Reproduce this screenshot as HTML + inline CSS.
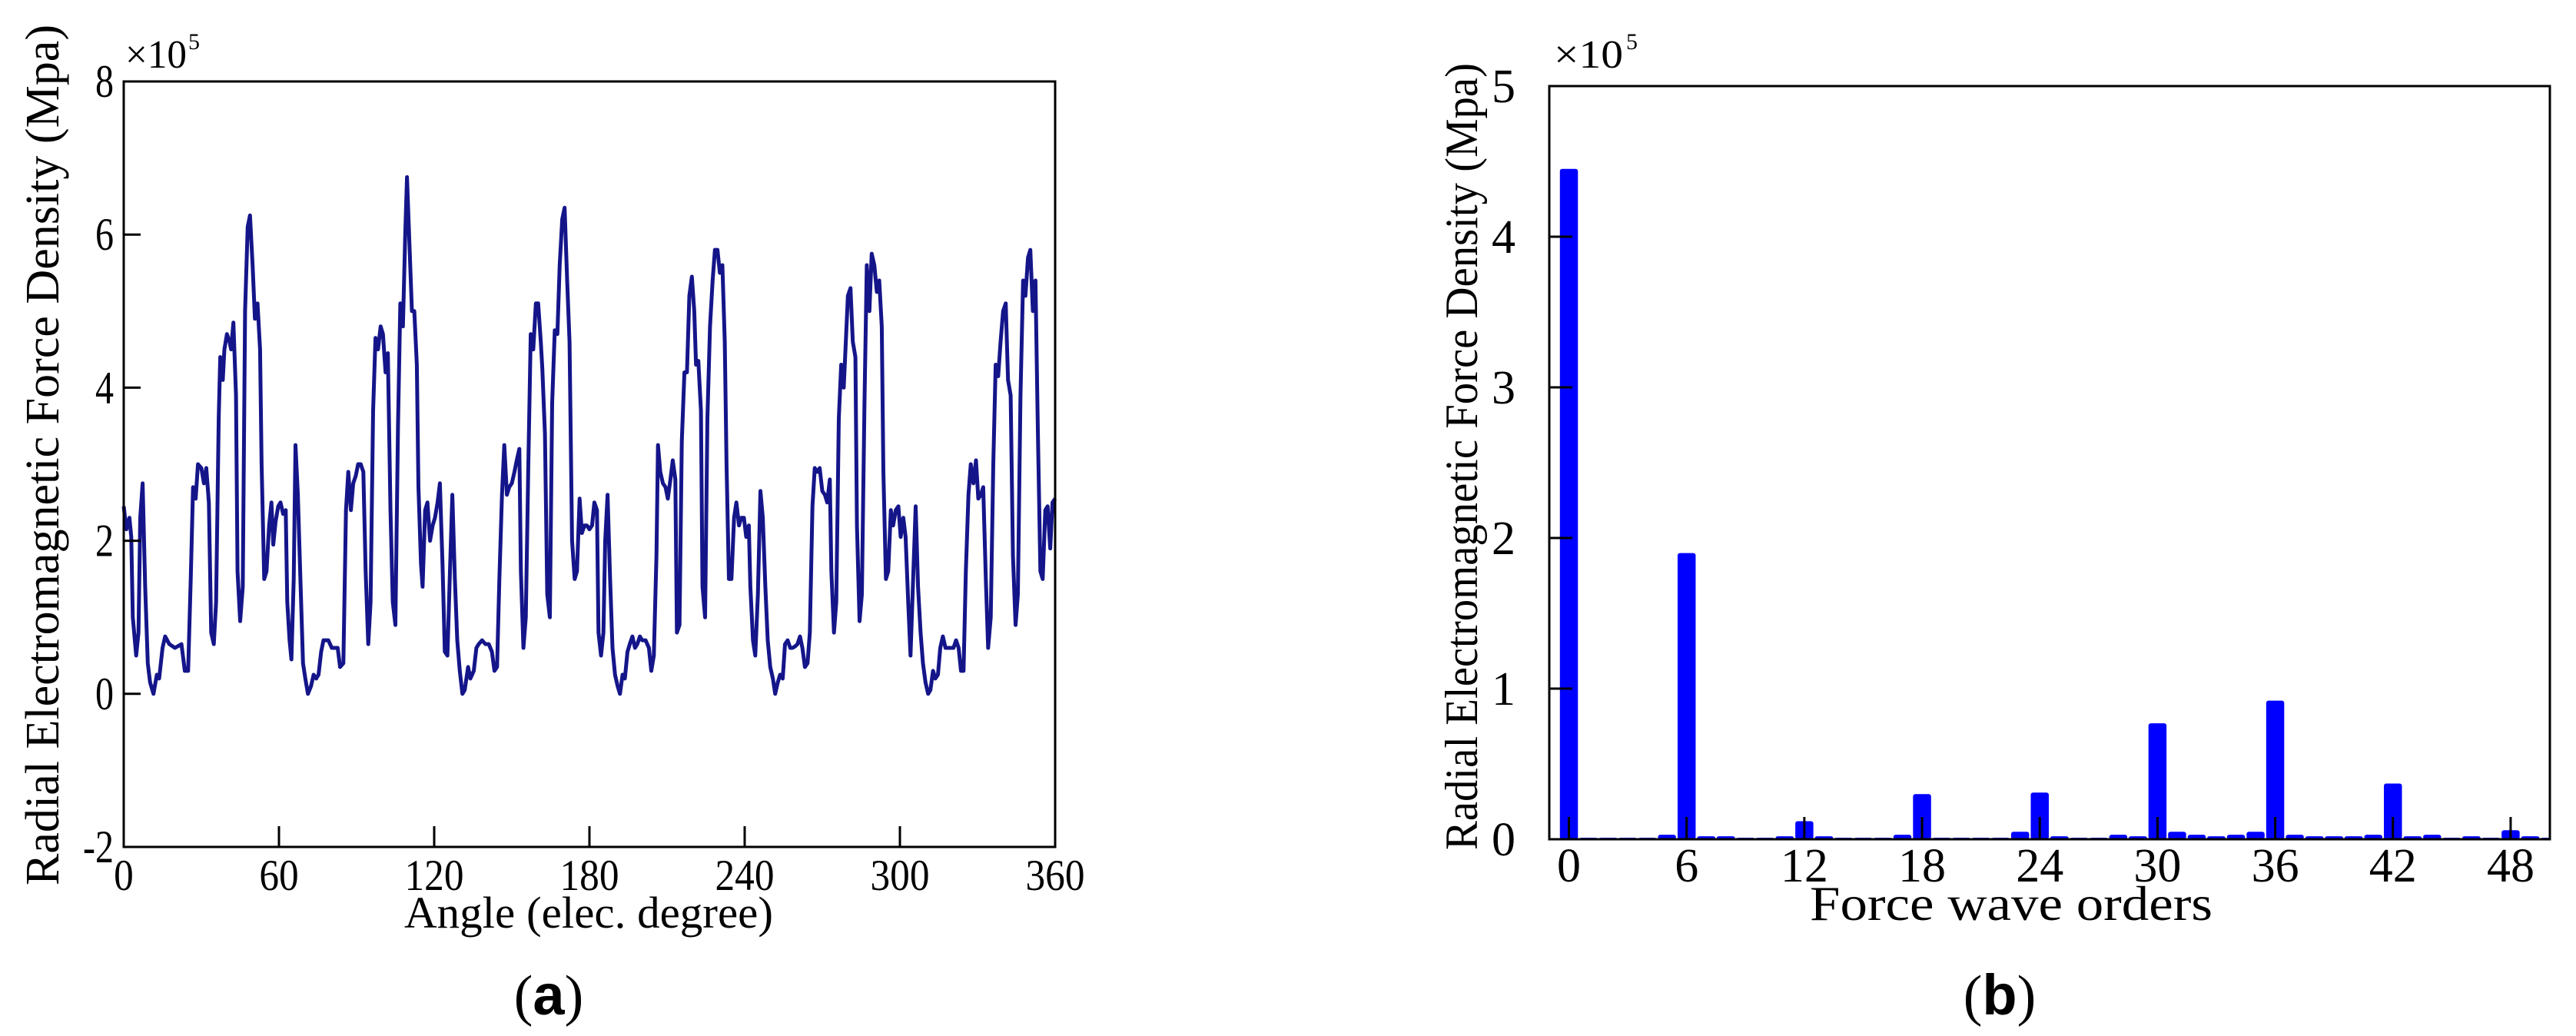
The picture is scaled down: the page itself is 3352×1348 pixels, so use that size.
<!DOCTYPE html>
<html><head><meta charset="utf-8"><style>
html,body{margin:0;padding:0;background:#fff;}
svg{display:block;font-family:"Liberation Serif",serif;}
</style></head><body>
<svg id="fig" width="3352" height="1348" viewBox="0 0 3352 1348" xmlns="http://www.w3.org/2000/svg">
<g id="pa"></g>
<g id="pb"></g>
</svg>
<script>
// Panel (a): angle (deg) vs force density (x1e5)
const angleA=[0,1.0,2.2,2.9,3.5,4.8,5.7,6.4,7.3,8.3,9.3,10.2,11.5,12.8,13.7,15.0,16.0,17.6,19.8,22.3,23.6,24.9,25.9,26.8,27.8,28.7,30.0,31.0,31.9,32.9,33.8,34.8,35.7,36.7,37.3,38.3,38.9,39.9,40.9,41.5,42.4,43.4,44.0,45.0,46.0,46.9,47.9,48.8,49.8,50.7,51.7,52.7,53.3,54.3,55.2,56.2,57.1,57.8,58.7,59.7,60.6,61.6,62.6,63.2,64.1,64.8,65.7,66.4,67.3,68.3,69.3,70.2,71.2,72.4,73.4,74.4,75.3,76.3,77.2,78.2,79.1,80.4,81.7,82.7,83.6,84.9,85.9,86.8,87.8,88.7,89.7,90.6,91.6,92.6,93.5,94.5,95.4,96.4,97.3,98.3,99.3,100.2,101.2,102.1,103.1,104.0,105.0,106.0,106.9,107.9,108.8,109.5,110.4,111.4,112.3,113.3,113.9,114.9,115.5,116.5,117.4,118.4,119.4,120.3,121.3,122.2,123.2,124.1,125.1,126.1,127.0,128.0,128.9,129.9,130.9,131.8,133.1,134.0,135.3,136.3,137.2,138.5,139.8,141.1,142.3,143.3,144.3,145.2,146.2,147.1,148.1,149.0,150.0,151.0,151.9,152.9,153.5,154.5,155.4,156.4,157.3,158.3,159.3,160.2,161.2,161.8,162.8,163.7,164.7,165.6,166.6,167.6,168.5,169.5,170.4,171.4,172.3,173.3,174.3,175.2,176.2,177.1,178.1,179.0,180.0,181.0,181.9,182.9,183.5,184.5,185.4,186.1,187.0,188.0,188.9,189.9,190.9,191.8,192.8,193.7,194.7,195.6,196.6,197.6,198.5,199.5,200.4,201.7,203.0,203.9,204.9,205.9,206.5,207.4,208.4,209.4,210.3,211.3,212.2,213.2,213.8,214.8,215.7,216.7,217.7,218.6,219.6,220.5,221.2,222.1,223.1,223.7,224.7,225.6,226.6,227.6,228.5,229.5,230.4,231.4,232.3,233.0,233.9,234.9,235.9,236.8,237.8,238.7,239.7,240.6,241.6,242.2,243.2,244.1,245.1,246.1,247.0,248.0,248.9,249.9,250.9,251.8,252.8,253.7,254.7,255.6,256.6,257.6,258.5,259.5,260.4,261.4,262.3,263.3,264.3,265.2,266.2,267.1,268.1,269.0,270.0,271.0,271.9,272.9,273.5,274.5,275.4,276.4,277.3,278.3,279.3,279.9,280.9,281.8,282.8,283.4,284.4,285.3,286.3,287.2,288.2,289.1,290.1,291.1,292.0,293.0,293.6,294.6,295.5,296.5,297.4,298.4,299.4,300.3,301.3,302.2,303.2,304.1,305.1,306.1,307.0,308.0,308.9,309.9,310.9,311.8,312.8,313.7,314.7,315.6,316.6,317.6,319.1,320.7,321.7,322.7,323.6,324.6,325.5,326.5,327.4,328.4,329.4,330.3,331.3,332.2,333.2,334.1,335.1,336.1,337.0,338.0,338.9,339.9,340.9,341.8,342.8,343.7,344.7,345.6,346.6,347.6,348.5,349.5,350.4,351.4,352.4,353.3,354.3,355.2,356.2,357.1,358.1,359.0,360];
const forceA=[2.45,2.15,2.3,2.05,1.0,0.5,0.8,2.3,2.75,1.4,0.4,0.15,0.0,0.25,0.2,0.6,0.75,0.65,0.6,0.65,0.3,0.3,1.5,2.7,2.55,3.0,2.95,2.75,2.95,2.5,0.8,0.65,1.2,3.6,4.4,4.1,4.5,4.7,4.6,4.5,4.85,3.9,1.6,0.95,1.4,5.0,6.1,6.25,5.6,4.9,5.1,4.5,3.0,1.5,1.6,2.2,2.5,1.95,2.25,2.45,2.5,2.35,2.4,1.2,0.7,0.45,1.5,3.25,2.6,1.5,0.4,0.2,0.0,0.1,0.25,0.2,0.25,0.55,0.7,0.7,0.7,0.6,0.6,0.6,0.35,0.4,2.4,2.9,2.4,2.75,2.85,3.0,3.0,2.9,1.6,0.65,1.2,3.7,4.65,4.5,4.8,4.7,4.2,4.45,2.4,1.2,0.9,3.5,5.1,4.8,6.0,6.75,5.9,5.0,5.0,4.3,2.7,1.7,1.4,2.4,2.5,2.0,2.2,2.3,2.5,2.75,1.7,0.55,0.5,1.6,2.6,1.5,0.7,0.3,0.0,0.05,0.35,0.2,0.3,0.6,0.65,0.7,0.65,0.65,0.55,0.3,0.35,1.5,2.6,3.25,2.6,2.7,2.75,2.9,3.05,3.2,1.6,0.6,1.0,3.0,4.7,4.5,5.1,5.1,4.6,4.25,3.4,1.3,1.0,3.8,4.75,4.7,5.6,6.2,6.35,5.4,4.6,2.0,1.5,1.6,2.55,2.1,2.2,2.2,2.15,2.2,2.5,2.4,0.8,0.5,0.8,2.0,2.6,1.5,0.6,0.25,0.1,0.0,0.25,0.2,0.55,0.65,0.75,0.6,0.65,0.75,0.7,0.7,0.6,0.3,0.5,1.8,3.25,2.9,2.75,2.7,2.55,2.8,3.05,2.8,0.8,0.9,3.3,4.2,4.2,5.2,5.45,5.0,4.3,4.35,3.7,1.4,1.0,3.6,4.8,5.4,5.8,5.8,5.5,5.6,4.6,3.0,1.5,1.5,2.3,2.5,2.2,2.3,2.3,2.05,2.2,1.4,0.7,0.5,1.3,2.65,2.3,1.4,0.7,0.35,0.2,0.0,0.15,0.25,0.2,0.65,0.7,0.6,0.6,0.62,0.65,0.75,0.6,0.35,0.4,0.8,2.45,2.95,2.9,2.95,2.65,2.6,2.5,2.8,1.6,0.8,1.2,3.6,4.3,4.0,4.75,5.2,5.3,4.6,4.4,2.2,0.95,1.3,3.8,5.6,5.0,5.75,5.6,5.25,5.4,4.8,2.9,1.5,1.6,2.4,2.2,2.4,2.45,2.05,2.3,2.05,1.2,0.5,1.5,2.45,1.4,0.8,0.4,0.15,0.0,0.05,0.3,0.2,0.25,0.6,0.75,0.6,0.6,0.6,0.7,0.6,0.3,0.3,1.6,2.6,3.0,2.75,3.05,2.55,2.6,2.7,1.5,0.6,1.0,3.0,4.3,4.15,4.6,5.0,5.1,4.1,3.9,1.8,0.9,1.3,3.9,5.4,5.2,5.7,5.8,5.0,5.4,3.5,1.6,1.5,2.4,2.45,1.9,2.5,2.55];
const xTicksA=[0,60,120,180,240,300,360];
const yTicksA=[-2,0,2,4,6,8];
// Panel (b): harmonic orders and amplitudes (x1e5)
const ordersB=[0,1,2,3,4,5,6,7,8,9,10,11,12,13,14,15,16,17,18,19,20,21,22,23,24,25,26,27,28,29,30,31,32,33,34,35,36,37,38,39,40,41,42,43,44,45,46,47,48,49,50];
const ampB=[4.45,0.01,0.01,0.01,0.01,0.03,1.9,0.02,0.02,0.01,0.01,0.02,0.12,0.02,0.01,0.01,0.01,0.03,0.30,0.01,0.01,0.01,0.01,0.05,0.31,0.02,0.01,0.01,0.03,0.02,0.77,0.05,0.03,0.02,0.03,0.05,0.92,0.03,0.02,0.02,0.02,0.03,0.37,0.02,0.03,0.01,0.02,0.01,0.06,0.02,0.01];
const xTicksB=[0,6,12,18,24,30,36,42,48];
const yTicksB=[0,1,2,3,4,5];

const NS='http://www.w3.org/2000/svg';
function mk(parent,tag,attrs,txt){const e=document.createElementNS(NS,tag);for(const k in attrs)e.setAttribute(k,attrs[k]);if(txt!==undefined)e.textContent=txt;parent.appendChild(e);return e;}

// ---- Panel a
const pa=document.getElementById('pa');
const A={l:161,r:1373,t:106,b:1102,x0:0,x1:360,y0:-2,y1:8};
const xa=v=>A.l+(v-A.x0)/(A.x1-A.x0)*(A.r-A.l);
const ya=v=>A.b-(v-A.y0)/(A.y1-A.y0)*(A.b-A.t);
let d='';
for(let i=0;i<angleA.length;i++){d+=(i?'L':'M')+xa(angleA[i]).toFixed(1)+' '+ya(forceA[i]).toFixed(1);}
let ln=mk(pa,'path',{d:d,fill:'none',stroke:'#15158a','stroke-width':5,'stroke-linejoin':'round'});


let fr=mk(pa,'rect',{x:A.l,y:A.t,width:A.r-A.l,height:A.b-A.t,fill:'none',stroke:'#000','stroke-width':3});


xTicksA.forEach(v=>{
  let t=mk(pa,'line',{x1:xa(v),x2:xa(v),y1:A.b,y2:A.b-27,stroke:'#000','stroke-width':3});
  
  
  let l=mk(pa,'text',{transform:'translate('+xa(v)+',1158) scale(0.9,1)','font-size':57,'text-anchor':'middle'},String(v));
  
  
});
yTicksA.forEach(v=>{
  let t=mk(pa,'line',{x1:A.l,x2:A.l+22,y1:ya(v),y2:ya(v),stroke:'#000','stroke-width':3});
  
  
  let l=mk(pa,'text',{transform:'translate(148,'+(ya(v)+20)+') scale(0.8,1)','font-size':60,'text-anchor':'end'},String(v));
  
  
});
// ---- Panel b
const pb=document.getElementById('pb');
const B={l:2016,r:3318,t:112,b:1092,x0:-1,x1:50,y0:0,y1:5};
const xb=v=>B.l+(v-B.x0)/(B.x1-B.x0)*(B.r-B.l);
const yb=v=>B.b-(v-B.y0)/(B.y1-B.y0)*(B.b-B.t);
const bw=(B.r-B.l)/(B.x1-B.x0)*0.92;
ordersB.forEach((o,i)=>{
  const h=B.b-yb(ampB[i]);
  let r=mk(pb,'rect',{x:xb(o)-bw/2,y:yb(ampB[i]),width:Math.min(bw,B.r-(xb(o)-bw/2)),height:h,fill:'#0000ff',rx:3});
  
  
});
let frb=mk(pb,'rect',{x:B.l,y:B.t,width:B.r-B.l,height:B.b-B.t,fill:'none',stroke:'#000','stroke-width':3});


xTicksB.forEach(v=>{
  let t=mk(pb,'line',{x1:xb(v),x2:xb(v),y1:B.b,y2:B.b-29,stroke:'#000','stroke-width':3});
  
  
  let l=mk(pb,'text',{x:xb(v),y:1147,'font-size':62,'text-anchor':'middle'},String(v));
  
  
});
yTicksB.forEach(v=>{
  let t=mk(pb,'line',{x1:B.l,x2:B.l+30,y1:yb(v),y2:yb(v),stroke:'#000','stroke-width':3});
  
  
  let l=mk(pb,'text',{x:1972,y:yb(v)+21,'font-size':62,'text-anchor':'end'},String(v));
  
  
});
</script>
<svg style="position:absolute;left:0;top:0" width="3352" height="1348" xmlns="http://www.w3.org/2000/svg">
<g font-family="Liberation Serif, serif" fill="#000">
<text transform="translate(76,592) rotate(-90)" font-size="62" text-anchor="middle" textLength="1120" lengthAdjust="spacingAndGlyphs">Radial Electromagnetic Force Density (Mpa)</text>
<text x="766" y="1207" font-size="58" text-anchor="middle" textLength="480" lengthAdjust="spacingAndGlyphs">Angle (elec. degree)</text>
<text x="163" y="88" font-size="52" textLength="80" lengthAdjust="spacingAndGlyphs">×10</text>
<text x="245" y="64" font-size="30">5</text>
<text x="714" y="1320" font-size="74" text-anchor="middle">(<tspan font-family="Liberation Sans, sans-serif" font-weight="bold">a</tspan>)</text>
<text transform="translate(1922,594) rotate(-90)" font-size="60" text-anchor="middle" textLength="1024" lengthAdjust="spacingAndGlyphs">Radial Electromagnetic Force Density (Mpa)</text>
<text x="2617" y="1197" font-size="64" text-anchor="middle" textLength="524" lengthAdjust="spacingAndGlyphs">Force wave orders</text>
<text x="2022" y="88" font-size="52" textLength="90" lengthAdjust="spacingAndGlyphs">×10</text>
<text x="2116" y="64" font-size="30">5</text>
<text x="2602" y="1320" font-size="74" text-anchor="middle">(<tspan font-family="Liberation Sans, sans-serif" font-weight="bold">b</tspan>)</text>
</g>
</svg>
</body></html>
